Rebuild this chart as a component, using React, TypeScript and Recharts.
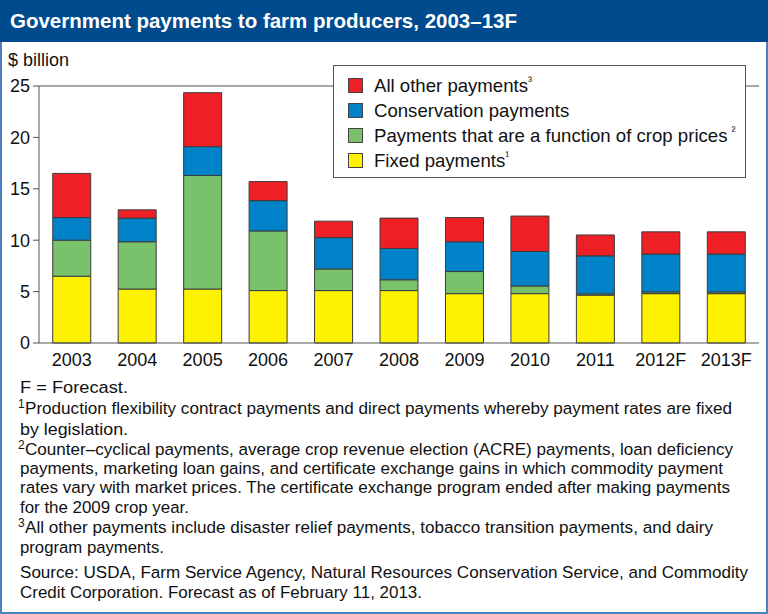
import React from 'react';
import { BarChart, Bar, XAxis, YAxis, ReferenceLine, Legend } from 'recharts';

const years = ['2003', '2004', '2005', '2006', '2007', '2008', '2009', '2010', '2011', '2012F', '2013F'];
const fixedPayments = [6.5, 5.25, 5.25, 5.1, 5.1, 5.1, 4.8, 4.8, 4.65, 4.8, 4.8];
const cropPricePayments = [3.5, 4.6, 11.05, 5.8, 2.1, 1.05, 2.15, 0.75, 0.13, 0.16, 0.16];
const conservationPayments = [2.2, 2.3, 2.8, 2.95, 3.05, 3.05, 2.9, 3.35, 3.7, 3.69, 3.69];
const otherPayments = [4.3, 0.8, 5.25, 1.85, 1.6, 2.95, 2.35, 3.45, 2.03, 2.16, 2.16];

const seriesKeys = ['fixed', 'crop', 'conservation', 'other'];
const seriesNames = ['Fixed payments', 'Payments that are a function of crop prices', 'Conservation payments', 'All other payments'];
const seriesNotes = ['¹', '²', '', '³'];
const seriesNoteGap = [0, 4, 0, 0];
const seriesColors = ['#fff200', '#79c26b', '#0082c9', '#ee1f25'];

const yTicks = [0, 5, 10, 15, 20, 25];
const edgeTicks = [0, 1, 2, 3, 4, 5, 6, 7, 8, 9, 10, 11];

const title = 'Government payments to farm producers, 2003–13F';
const unitLabel = '$ billion';
const footnoteMarks = ['', '1', '', '2', '', '', '', '3', '', '', ''];
const footnoteLines = [
  'F = Forecast.',
  'Production flexibility contract payments and direct payments whereby payment rates are fixed',
  'by legislation.',
  'Counter–cyclical payments, average crop revenue election (ACRE) payments, loan deficiency',
  'payments, marketing loan gains, and certificate exchange gains in which commodity payment',
  'rates vary with market prices. The certificate exchange program ended after making payments',
  'for the 2009 crop year.',
  'All other payments include disaster relief payments, tobacco transition payments, and dairy',
  'program payments.',
  'Source: USDA, Farm Service Agency, Natural Resources Conservation Service, and Commodity',
  'Credit Corporation. Forecast as of February 11, 2013.',
];
const footnoteBaselines = [393, 414, 434.5, 455, 474, 493, 512.5, 533, 552.5, 577.5, 598];
const footnoteWidths = [108, 707, 108, 708, 703, 710, 169, 688, 144, 728, 402];

const data = years.map((year, i) => ({
  year,
  fixed: fixedPayments[i],
  crop: cropPricePayments[i],
  conservation: conservationPayments[i],
  other: otherPayments[i],
}));

const FONT = '"Liberation Sans", Arial, Helvetica, sans-serif';

const renderLegend = (props: any) => {
  const payload = [...(props.payload || [])].sort(
    (a: any, b: any) => seriesNames.indexOf(b.value) - seriesNames.indexOf(a.value)
  );
  return (
    <div
      style={{
        width: 413,
        height: 113,
        boxSizing: 'border-box',
        border: '1px solid #555',
        background: '#fff',
        paddingTop: 7,
        fontFamily: FONT,
      }}
    >
      {payload.map((entry: any) => {
        const idx = seriesNames.indexOf(entry.value);
        return (
          <div key={entry.value} style={{ display: 'flex', alignItems: 'center', height: 25, paddingLeft: 14 }}>
            <span
              style={{
                display: 'inline-block',
                width: 13,
                height: 13,
                background: entry.color,
                border: '1px solid #444',
                marginRight: 11,
              }}
            />
            <span style={{ fontSize: 18.6, color: '#111', whiteSpace: 'nowrap', position: 'relative' }}>
              {entry.value}
              {idx >= 0 && seriesNotes[idx] ? (
                <span
                  style={{
                    fontSize: 12,
                    position: 'relative',
                    top: -7,
                    marginLeft: seriesNoteGap[idx],
                  }}
                >
                  {seriesNotes[idx]}
                </span>
              ) : null}
            </span>
          </div>
        );
      })}
    </div>
  );
};

export default function App() {
  return (
    <div
      style={{
        position: 'absolute',
        left: 0,
        top: 0,
        width: 768,
        height: 614,
        background: '#fff',
        fontFamily: FONT,
        overflow: 'hidden',
      }}
    >
      <div
        style={{
          position: 'absolute',
          left: 0,
          top: 0,
          width: 768,
          height: 614,
          boxSizing: 'border-box',
          border: '2px solid #4d80bd',
        }}
      />
      <div
        style={{
          position: 'absolute',
          left: 0,
          top: 0,
          width: 768,
          height: 42,
          background: '#004a8e',
          color: '#fff',
          fontWeight: 'bold',
          fontSize: 20.5,
          lineHeight: '42px',
          paddingLeft: 10,
          boxSizing: 'border-box',
          whiteSpace: 'nowrap',
        }}
      >
        {title}
      </div>
      <div
        style={{
          position: 'absolute',
          left: 8,
          top: 50,
          fontSize: 18,
          lineHeight: '20px',
          color: '#111',
        }}
      >
        {unitLabel}
      </div>
      <div style={{ position: 'absolute', left: 0, top: 42 }}>
        <BarChart
          width={768}
          height={338}
          data={data}
          margin={{ top: 44, right: 9, left: 9, bottom: 7 }}
          barCategoryGap="21%"
        >
          <XAxis
            xAxisId="edge"
            type="number"
            domain={[0, 11]}
            ticks={edgeTicks}
            tick={false}
            axisLine={false}
            tickLine={{ stroke: '#555' }}
            tickSize={5}
            height={0}
            allowDataOverflow
          />
          <XAxis
            dataKey="year"
            type="category"
            tickLine={false}
            axisLine={{ stroke: '#555' }}
            tickSize={6}
            tickMargin={4}
            height={30}
            interval={0}
            tick={{ fontSize: 18, fill: '#111', fontFamily: FONT }}
          />
          <YAxis
            domain={[0, 25]}
            ticks={yTicks}
            width={30}
            tickSize={6}
            tickMargin={3}
            axisLine={{ stroke: '#555' }}
            tickLine={{ stroke: '#555' }}
            tick={{ fontSize: 18, fill: '#111', fontFamily: FONT }}
            interval={0}
          />
          <ReferenceLine y={25} stroke="#8a8a8a" strokeWidth={1.5} />
          <ReferenceLine xAxisId="edge" x={11} stroke="#8a8a8a" strokeWidth={1.5} />
          {seriesKeys.map((key, i) => (
            <Bar
              key={key}
              dataKey={key}
              name={seriesNames[i]}
              stackId="a"
              fill={seriesColors[i]}
              stroke="#3c3c3c"
              strokeWidth={1}
              isAnimationActive={false}
            />
          ))}
          <Legend
            layout="horizontal"
            verticalAlign="middle"
            align="center"
            content={renderLegend}
            wrapperStyle={{ position: 'absolute', left: 333, top: 23, width: 413, height: 113 }}
          />
        </BarChart>
      </div>
      <svg
        width={768}
        height={614}
        style={{ position: 'absolute', left: 0, top: 0, pointerEvents: 'none' }}
      >
        {footnoteLines.map((line, i) => {
          const hasMark = footnoteMarks[i] !== '';
          const x0 = hasMark ? 25 : 20;
          return (
            <g key={i}>
              {hasMark ? (
                <text x={18} y={footnoteBaselines[i] - 6} fontSize={12} fill="#111" fontFamily={FONT}>
                  {footnoteMarks[i]}
                </text>
              ) : null}
              <text
                x={x0}
                y={footnoteBaselines[i]}
                fontSize={17.4}
                fill="#111"
                fontFamily={FONT}
                textLength={footnoteWidths[i]}
                lengthAdjust="spacingAndGlyphs"
              >
                {line}
              </text>
            </g>
          );
        })}
      </svg>
    </div>
  );
}
